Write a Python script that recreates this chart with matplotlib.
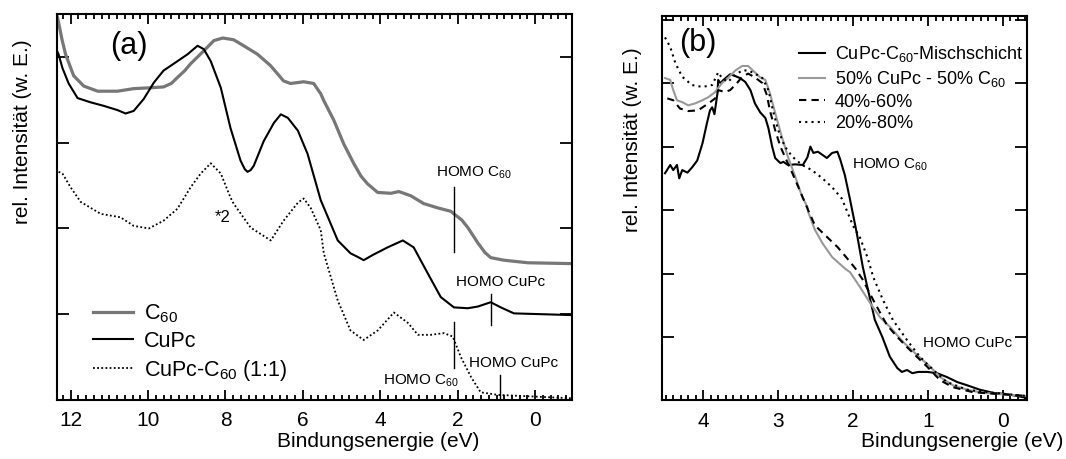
import matplotlib
matplotlib.use("Agg")
import matplotlib.pyplot as plt
from matplotlib.ticker import MultipleLocator

# ---- (a) UPS-Spektren ----
c60_e = [12.36, 12.31, 12.22, 12.13, 11.92, 11.66, 11.30, 10.79, 10.37, 9.93, 9.60, 9.40, 9.24, 9.05,
         8.90, 8.72, 8.56, 8.30, 8.07, 7.79, 7.53, 7.17, 6.84, 6.65, 6.50, 6.32, 5.98, 5.72, 5.54, 5.46,
         5.20, 4.95, 4.69, 4.50, 4.33, 4.07, 3.73, 3.52, 3.21, 2.88, 2.52, 2.18, 2.10, 1.90, 1.74,
         1.48, 1.30, 1.15, 0.81, 0.19, -0.95]
c60_y = [4.50, 4.40, 4.20, 4.03, 3.78, 3.66, 3.60, 3.60, 3.63, 3.64, 3.65, 3.69, 3.76, 3.84,
         3.92, 4.00, 4.07, 4.19, 4.22, 4.20, 4.13, 4.03, 3.90, 3.80, 3.72, 3.69, 3.71, 3.69, 3.57, 3.49,
         3.26, 2.99, 2.76, 2.61, 2.52, 2.42, 2.41, 2.43, 2.38, 2.29, 2.24, 2.20, 2.17, 2.10, 2.01,
         1.83, 1.72, 1.66, 1.63, 1.60, 1.59]

cupc_e = [12.36, 12.31, 12.21, 12.05, 11.82, 11.48, 11.15, 10.79, 10.58, 10.37, 10.11, 9.85, 9.60, 9.24,
          8.98, 8.72, 8.56, 8.38, 8.12, 7.87, 7.61, 7.50, 7.43, 7.35, 7.27, 7.01, 6.75, 6.57, 6.39,
          6.13, 5.88, 5.54, 5.10, 4.77, 4.55, 4.43, 4.20, 3.81, 3.42, 3.14, 2.78, 2.44, 2.10, 1.74,
          1.48, 1.15, 0.89, 0.55, -0.95]
cupc_y = [4.08, 4.03, 3.87, 3.69, 3.52, 3.47, 3.43, 3.38, 3.34, 3.37, 3.51, 3.70, 3.84, 3.95,
          4.03, 4.13, 4.09, 3.95, 3.64, 3.17, 2.79, 2.69, 2.66, 2.68, 2.73, 3.02, 3.23, 3.33, 3.29,
          3.14, 2.87, 2.33, 1.86, 1.71, 1.66, 1.63, 1.69, 1.78, 1.86, 1.78, 1.48, 1.20, 1.08, 1.07,
          1.09, 1.14, 1.08, 1.01, 0.99]

mix_e = [12.31, 12.21, 12.0, 11.74, 11.22, 10.71, 10.37, 9.98, 9.60, 9.24, 8.90, 8.64, 8.38, 8.12,
         7.87, 7.79, 7.35, 6.83, 6.50, 6.13, 5.98, 5.80, 5.54, 5.46, 5.10, 4.77, 4.43, 4.07, 3.65,
         3.29, 3.03, 2.70, 2.36, 2.13, 1.92, 1.66, 1.41, 0.97, -0.95]
mix_y = [2.66, 2.64, 2.48, 2.31, 2.17, 2.13, 2.03, 2.00, 2.09, 2.23, 2.48, 2.64, 2.76, 2.64,
         2.36, 2.29, 2.01, 1.86, 2.09, 2.30, 2.35, 2.24, 1.98, 1.71, 1.16, 0.81, 0.70, 0.81, 1.02,
         0.90, 0.76, 0.76, 0.78, 0.74, 0.50, 0.27, 0.09, 0.06, 0.02]

# ---- (b) Mischschicht vs. Überlagerung ----
misch_e = [4.51, 4.44, 4.40, 4.35, 4.32, 4.28, 4.21, 4.15, 4.08, 4.01, 3.95, 3.91, 3.88, 3.85, 3.81,
           3.80, 3.77, 3.73, 3.68, 3.64, 3.57, 3.51, 3.44, 3.37, 3.31, 3.24, 3.17, 3.13, 3.08, 3.04,
           2.97, 2.93, 2.87, 2.77, 2.67, 2.61, 2.57, 2.53, 2.47, 2.41, 2.35, 2.28, 2.21, 2.17, 2.11,
           2.04, 1.95, 1.87, 1.77, 1.71, 1.61, 1.51, 1.41, 1.35, 1.28, 1.21, 1.13, 1.01, 0.88, 0.75,
           0.61, 0.48, 0.31, 0.13, -0.05, -0.19, -0.32]
misch_y = [3.58, 3.71, 3.63, 3.71, 3.50, 3.63, 3.59, 3.67, 3.78, 4.05, 4.37, 4.57, 4.62, 4.51, 4.84,
           5.05, 5.00, 5.05, 5.10, 5.14, 5.11, 5.08, 5.02, 4.89, 4.68, 4.54, 4.45, 4.29, 4.00, 3.82,
           3.74, 3.76, 3.71, 3.72, 3.71, 3.83, 4.00, 3.90, 3.92, 3.87, 3.82, 3.90, 3.92, 3.79, 3.55,
           3.16, 2.63, 2.10, 1.58, 1.27, 1.00, 0.69, 0.51, 0.45, 0.48, 0.43, 0.45, 0.45, 0.43, 0.37,
           0.29, 0.24, 0.17, 0.12, 0.10, 0.07, 0.04]

p50_e = [4.51, 4.44, 4.40, 4.35, 4.28, 4.20, 4.11, 4.01, 3.93, 3.84, 3.75, 3.67, 3.57, 3.48, 3.40,
         3.31, 3.24, 3.17, 3.11, 3.04, 2.95, 2.87, 2.77, 2.68, 2.61, 2.60, 2.51, 2.41, 2.28, 2.11,
         2.04, 1.91, 1.77, 1.64, 1.51, 1.33, 1.15, 0.97, 0.84, 0.67, 0.48, 0.27, 0.04, -0.32]
p50_y = [5.08, 5.05, 4.89, 4.73, 4.70, 4.65, 4.68, 4.73, 4.78, 4.86, 5.00, 5.08, 5.20, 5.27, 5.27,
         5.17, 5.09, 5.05, 4.84, 4.53, 4.15, 3.84, 3.52, 3.21, 3.05, 2.97, 2.69, 2.48, 2.26, 2.08,
         2.02, 1.79, 1.53, 1.31, 1.16, 0.92, 0.72, 0.53, 0.37, 0.24, 0.17, 0.12, 0.10, 0.07]

p40_e = [4.48, 4.40, 4.31, 4.20, 4.07, 3.93, 3.84, 3.80, 3.71, 3.64, 3.55, 3.48, 3.40, 3.31, 3.21,
         3.15, 3.11, 3.04, 2.97, 2.88, 2.81, 2.73, 2.60, 2.51, 2.37, 2.21, 2.08, 1.97, 1.87, 1.73,
         1.55, 1.41, 1.28, 1.15, 1.01, 0.84, 0.67, 0.40, 0.04, -0.32]
p40_y = [4.76, 4.73, 4.60, 4.56, 4.57, 4.68, 4.76, 4.89, 4.86, 4.89, 5.00, 5.10, 5.15, 5.09, 5.00,
         4.81, 4.57, 4.26, 4.00, 3.76, 3.58, 3.36, 3.00, 2.76, 2.60, 2.42, 2.24, 2.08, 1.90, 1.58,
         1.19, 1.00, 0.84, 0.69, 0.53, 0.32, 0.21, 0.13, 0.10, 0.07]

p20_e = [4.51, 4.44, 4.37, 4.28, 4.15, 4.01, 3.88, 3.80, 3.75, 3.67, 3.57, 3.48, 3.40, 3.31, 3.21,
         3.13, 3.07, 3.00, 2.91, 2.81, 2.68, 2.55, 2.41, 2.28, 2.15, 2.00, 1.91, 1.81, 1.73, 1.60,
         1.47, 1.28, 1.11, 0.93, 0.75, 0.48, 0.13, -0.32]
p20_y = [5.72, 5.57, 5.31, 5.10, 4.97, 4.94, 4.97, 5.17, 5.08, 5.02, 5.13, 5.20, 5.20, 5.15, 5.08,
         4.89, 4.57, 4.26, 4.00, 3.84, 3.71, 3.63, 3.50, 3.36, 3.18, 2.75, 2.57, 2.26, 1.94, 1.58,
         1.27, 0.95, 0.69, 0.48, 0.29, 0.17, 0.12, 0.07]

SUB60 = r"C$_\mathregular{60}$"


def style_axes(ax, minor_step):
    for s in ax.spines.values():
        s.set_linewidth(1.5)
    ax.xaxis.set_minor_locator(MultipleLocator(minor_step))
    ax.tick_params(which="both", direction="in", top=True, right=True, labelsize=15, width=1.3)
    ax.tick_params(which="major", length=7, pad=8)
    ax.tick_params(axis="y", which="major", length=8.5, labelleft=False)
    ax.tick_params(which="minor", length=3.5)
    ax.tick_params(axis="y", which="minor", left=False, right=False)


def main():
    plt.rcParams["font.family"] = ["Liberation Sans", "DejaVu Sans"]
    plt.rcParams["mathtext.fontset"] = "custom"
    plt.rcParams["mathtext.rm"] = "Liberation Sans"

    fig = plt.figure(figsize=(10.66, 4.59), dpi=100)
    ax_a = fig.add_axes([0.0535, 0.1285, 0.4831, 0.841])
    ax_b = fig.add_axes([0.621, 0.1275, 0.3424, 0.8366])

    # (a)
    ax_a.plot(c60_e, c60_y, color="#777777", lw=2.3, label=SUB60)
    ax_a.plot(cupc_e, cupc_y, color="black", lw=1.5, label="CuPc")
    ax_a.plot(mix_e, mix_y, color="black", lw=1.3, ls=(0, (1, 1.3)), label="CuPc-" + SUB60 + " (1:1)")
    ax_a.set_xlim(12.35, -0.95)
    ax_a.set_ylim(0, 4.5)
    ax_a.xaxis.set_major_locator(MultipleLocator(2))
    ax_a.yaxis.set_major_locator(MultipleLocator(1))
    style_axes(ax_a, 0.2)

    # HOMO-Markierungen
    ax_a.plot([2.10, 2.10], [1.72, 2.48], color="black", lw=1)
    ax_a.plot([1.15, 1.15], [0.87, 1.24], color="black", lw=1)
    ax_a.plot([2.10, 2.10], [0.37, 0.91], color="black", lw=1)
    ax_a.plot([0.91, 0.91], [0.0, 0.29], color="black", lw=1)
    ax_a.text(1.58, 2.65, "HOMO " + SUB60, fontsize=11, ha="center", va="center")
    ax_a.text(0.89, 1.37, "HOMO CuPc", fontsize=11, ha="center", va="center")
    ax_a.text(2.95, 0.22, "HOMO " + SUB60, fontsize=11, ha="center", va="center")
    ax_a.text(0.55, 0.43, "HOMO CuPc", fontsize=11, ha="center", va="center")
    ax_a.text(8.07, 2.13, "*2", fontsize=12, ha="center", va="center")
    ax_a.text(10.5, 4.13, "(a)", fontsize=22, ha="center", va="center")

    ax_a.legend(loc="lower left", bbox_to_anchor=(0.041, 0.005), frameon=False, fontsize=15.5,
                handlelength=1.85, handletextpad=0.5, labelspacing=0.28, borderpad=0.2)

    ax_a.set_ylabel("rel. Intensität (w. E.)", fontsize=15)
    ax_a.yaxis.set_label_coords(32 / 1066, 1 - 132 / 459, transform=fig.transFigure)
    ax_a.set_xlabel("Bindungsenergie (eV)", fontsize=15)
    ax_a.xaxis.set_label_coords(378 / 1066, 1 - 432 / 459, transform=fig.transFigure)

    # (b)
    ax_b.plot(misch_e, misch_y, color="black", lw=1.5, label="CuPc-" + SUB60 + "-Mischschicht")
    ax_b.plot(p50_e, p50_y, color="#999999", lw=1.5, label="50% CuPc - 50% " + SUB60)
    ax_b.plot(p40_e, p40_y, color="black", lw=1.5, ls=(0, (3.5, 2.5)), label="40%-60%")
    ax_b.plot(p20_e, p20_y, color="black", lw=1.5, ls=(0, (1, 2)), label="20%-80%")
    ax_b.set_xlim(4.55, -0.32)
    ax_b.set_ylim(0, 6.05)
    ax_b.xaxis.set_major_locator(MultipleLocator(1))
    ax_b.yaxis.set_major_locator(MultipleLocator(1))
    style_axes(ax_b, 0.1)

    ax_b.text(2.01, 3.71, "HOMO " + SUB60, fontsize=11, ha="left", va="center")
    ax_b.text(1.07, 0.91, "HOMO CuPc", fontsize=11, ha="left", va="center")
    ax_b.text(4.07, 5.63, "(b)", fontsize=22, ha="center", va="center")

    ax_b.legend(loc="upper right", bbox_to_anchor=(1.025, 0.96), frameon=False, fontsize=13,
                handlelength=1.45, handletextpad=0.55, labelspacing=0.25, borderpad=0.2)

    ax_b.set_ylabel("rel. Intensität (w. E.)", fontsize=15)
    ax_b.yaxis.set_label_coords(642 / 1066, 1 - 140 / 459, transform=fig.transFigure)
    ax_b.set_xlabel("Bindungsenergie (eV)", fontsize=15, ha="right")
    ax_b.xaxis.set_label_coords(1063 / 1066, 1 - 432 / 459, transform=fig.transFigure)

    fig.savefig("out.png", dpi=100)


if __name__ == "__main__":
    main()
